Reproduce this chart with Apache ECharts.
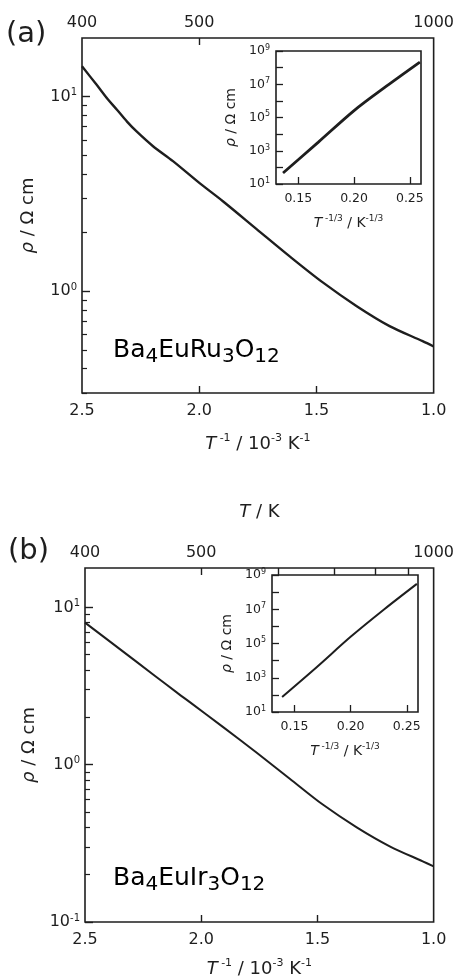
<!DOCTYPE html>
<html><head><meta charset="utf-8">
<script src="https://cdn.jsdelivr.net/npm/echarts@6/dist/echarts.min.js"></script>
<style>html,body{margin:0;padding:0;background:#fff}#c{width:457px;height:979px}</style>
</head><body><div id="c"></div>
<script>
// ---- data (a) Ba4EuRu3O12 : T^-1 (10^-3 K^-1) vs rho (Ohm cm)
const aInvT = [2.50, 2.44, 2.389, 2.35, 2.308, 2.266, 2.197, 2.112, 1.997, 1.899, 1.754, 1.614, 1.473, 1.328, 1.188, 1.047, 1.00];
const aRho  = [14.3, 11.6, 9.66, 8.54, 7.44, 6.60, 5.56, 4.66, 3.58, 2.90, 2.08, 1.51, 1.11, 0.838, 0.662, 0.554, 0.52];
// ---- data (b) Ba4EuIr3O12
const bInvT = [2.50, 2.35, 2.20, 2.10, 2.049, 1.907, 1.761, 1.619, 1.477, 1.331, 1.189, 1.047, 1.00];
const bRho  = [8.0, 5.43, 3.68, 2.84, 2.50, 1.74, 1.19, 0.815, 0.558, 0.40, 0.303, 0.243, 0.226];
// ---- insets: T^-1/3 (K^-1/3) vs rho
const aInsetX   = [0.1363, 0.168, 0.200, 0.229, 0.259];
const aInsetRho = [45.7, 3300, 2.6e5, 7.6e6, 2.14e8];
const bInsetX   = [0.139, 0.170, 0.200, 0.230, 0.259];
const bInsetRho = [75.9, 4300, 2.45e5, 1.0e7, 3.02e8];
// ---- tick labels
const bottomTicks = [2.5, 2.0, 1.5, 1.0];
const topTempLabels = [400, 500, 1000];
const topTempTicksA = [500];
const topTempTicksB = [500, 600, 700, 800, 900];
const aMajorY = [1, 10];
const aMinorY = [0.3, 0.4, 0.5, 0.6, 0.7, 0.8, 0.9, 2, 3, 4, 5, 6, 7, 8, 9];
const bMajorY = [0.1, 1, 10];
const bMinorY = [0.2, 0.3, 0.4, 0.5, 0.6, 0.7, 0.8, 0.9, 2, 3, 4, 5, 6, 7, 8, 9];
const insetYTicks = [1e1, 1e2, 1e3, 1e4, 1e5, 1e6, 1e7, 1e8, 1e9];
const insetYLabels = [1e1, 1e3, 1e5, 1e7, 1e9];
const insetXTicks = [0.15, 0.20, 0.25];

const FONT = 'DejaVu Sans';
const INK = '#1e1e1e';

function pow10Label(v) {
  const e = Math.round(Math.log10(v));
  return '{b|10}{s|' + e + '}';
}
function powRich(b, s) {
  return {
    b: {fontFamily: FONT, fontSize: b, color: INK, lineHeight: b + 2},
    s: {fontFamily: FONT, fontSize: s, color: INK, verticalAlign: 'top', lineHeight: s}
  };
}
const titleRich = (n, s) => ({
  i: {fontFamily: FONT, fontSize: n, fontStyle: 'italic', color: INK, lineHeight: n + 4},
  n: {fontFamily: FONT, fontSize: n, color: INK, lineHeight: n + 4},
  s: {fontFamily: FONT, fontSize: s, color: INK, verticalAlign: 'top', lineHeight: s}
});
const xTitle = '{i|T}{s| -1}{n| / 10}{s|-3}{n| K}{s|-1}';
const rhoTitle = '{i|ρ}{n| / Ω cm}';
const insetXTitle = '{i|T}{s| -1/3}{n| / K}{s|-1/3}';

const grids = [
  {left: 82, top: 38, width: 352, height: 355},
  {left: 276, top: 51, width: 145, height: 133},
  {left: 85, top: 568, width: 349, height: 355},
  {left: 272, top: 575, width: 146, height: 137}
].map(g => Object.assign({show: true, borderColor: INK, borderWidth: 1.6, backgroundColor: '#fff', containLabel: false}, g));

function mainBottom(gi, gap) {
  return {
    type: 'value', gridIndex: gi, position: 'bottom', inverse: true, min: 1.0, max: 2.5,
    axisLine: {show: false}, splitLine: {show: false},
    axisTick: {inside: true, length: 7, lineStyle: {color: INK, width: 1.4}, customValues: [2.0, 1.5]},
    axisLabel: {customValues: bottomTicks, margin: 10, fontFamily: FONT, fontSize: 16, color: INK,
      formatter: v => v.toFixed(1)},
    name: xTitle, nameLocation: 'middle', nameGap: gap,
    nameTextStyle: {rich: titleRich(18, 11)}
  };
}
function mainTop(gi, ticks, name) {
  const ax = {
    type: 'value', gridIndex: gi, position: 'top', inverse: true, min: 1.0, max: 2.5,
    axisLine: {show: false}, splitLine: {show: false},
    axisTick: {inside: true, length: 7, lineStyle: {color: INK, width: 1.4}, customValues: ticks.map(t => 1000 / t)},
    axisLabel: {customValues: topTempLabels.map(t => 1000 / t), margin: 7, fontFamily: FONT, fontSize: 16, color: INK,
      formatter: v => String(Math.round(1000 / v))}
  };
  if (name) {
    ax.name = name; ax.nameLocation = 'middle'; ax.nameGap = 45;
    ax.nameTextStyle = {rich: titleRich(18, 11)};
  }
  return ax;
}
function insetX(gi) {
  return {
    type: 'value', gridIndex: gi, position: 'bottom', min: 0.13, max: 0.26,
    axisLine: {show: false}, splitLine: {show: false},
    axisTick: {inside: true, length: 7, lineStyle: {color: INK, width: 1.3}, customValues: insetXTicks},
    axisLabel: {customValues: insetXTicks, margin: 8, fontFamily: FONT, fontSize: 12.5, color: INK,
      formatter: v => v.toFixed(2)},
    name: insetXTitle, nameLocation: 'middle', nameGap: 30,
    nameTextStyle: {rich: titleRich(14, 9)}
  };
}
function mainY(gi, min, max, major, gap) {
  return {
    type: 'log', logBase: 10, gridIndex: gi, position: 'left', min: min, max: max,
    axisLine: {show: false}, splitLine: {show: false}, minorTick: {show: false},
    axisTick: {inside: true, length: 8, lineStyle: {color: INK, width: 1.4}, customValues: major},
    axisLabel: {customValues: major, margin: 5, formatter: pow10Label, rich: powRich(16, 10)},
    name: rhoTitle, nameLocation: 'middle', nameGap: gap,
    nameTextStyle: {rich: titleRich(18, 10)}
  };
}
function minorY(gi, min, max, minor) {
  return {
    type: 'log', logBase: 10, gridIndex: gi, position: 'left', offset: 0, min: min, max: max,
    axisLine: {show: false}, splitLine: {show: false}, axisLabel: {show: false},
    axisTick: {inside: true, length: 5, lineStyle: {color: INK, width: 1.2}, customValues: minor}
  };
}
function insetY(gi) {
  return {
    type: 'log', logBase: 10, gridIndex: gi, position: 'left', min: 1e1, max: 1e9,
    axisLine: {show: false}, splitLine: {show: false},
    axisTick: {inside: true, length: 7, lineStyle: {color: INK, width: 1.3}, customValues: insetYTicks},
    axisLabel: {customValues: insetYLabels, margin: 6, formatter: pow10Label, rich: powRich(12.5, 8)},
    name: rhoTitle, nameLocation: 'middle', nameGap: 36,
    nameTextStyle: {rich: titleRich(14, 9)}
  };
}

const pairs = (xs, ys) => xs.map((x, i) => [x, ys[i]]);
function line(xi, yi, xs, ys, w) {
  return {type: 'line', xAxisIndex: xi, yAxisIndex: yi, data: pairs(xs, ys), showSymbol: false,
    smooth: 0.3, lineStyle: {color: INK, width: w}, animation: false, silent: true};
}

const subRich = {
  n: {fontFamily: FONT, fontSize: 25, color: INK, lineHeight: 28, verticalAlign: 'top'},
  s: {fontFamily: FONT, fontSize: 20, color: INK, lineHeight: 22, verticalAlign: 'top', padding: [9, 0, 0, 0]}
};

const option = {
  animation: false,
  backgroundColor: '#fff',
  grid: grids,
  xAxis: [mainBottom(0, 40), mainTop(0, topTempTicksA), insetX(1), mainBottom(2, 36), mainTop(2, topTempTicksB, '{i|T}{n| / K}'), insetX(3)],
  yAxis: [mainY(0, 0.3, 20, aMajorY, 43), minorY(0, 0.3, 20, aMinorY), insetY(1),
          mainY(2, 0.1, 17.8, bMajorY, 41), minorY(2, 0.1, 17.8, bMinorY), insetY(3)],
  series: [
    line(0, 0, aInvT, aRho, 2.4),
    line(2, 2, aInsetX, aInsetRho, 2.8),
    line(3, 3, bInvT, bRho, 2.0),
    line(5, 5, bInsetX, bInsetRho, 2.0)
  ],
  graphic: [
    {type: 'text', left: 6, top: 20, style: {text: '(a)', font: '29px "DejaVu Sans"', fill: INK}},
    {type: 'text', left: 8, top: 537, style: {text: '(b)', font: '29px "DejaVu Sans"', fill: INK}},
    {type: 'text', left: 113, top: 338, style: {text: '{n|Ba}{s|4}{n|EuRu}{s|3}{n|O}{s|12}', rich: subRich}},
    {type: 'text', left: 113, top: 866, style: {text: '{n|Ba}{s|4}{n|EuIr}{s|3}{n|O}{s|12}', rich: subRich}}
  ]
};
const chart = echarts.init(document.getElementById('c'));
chart.setOption(option);
</script>
</body></html>
